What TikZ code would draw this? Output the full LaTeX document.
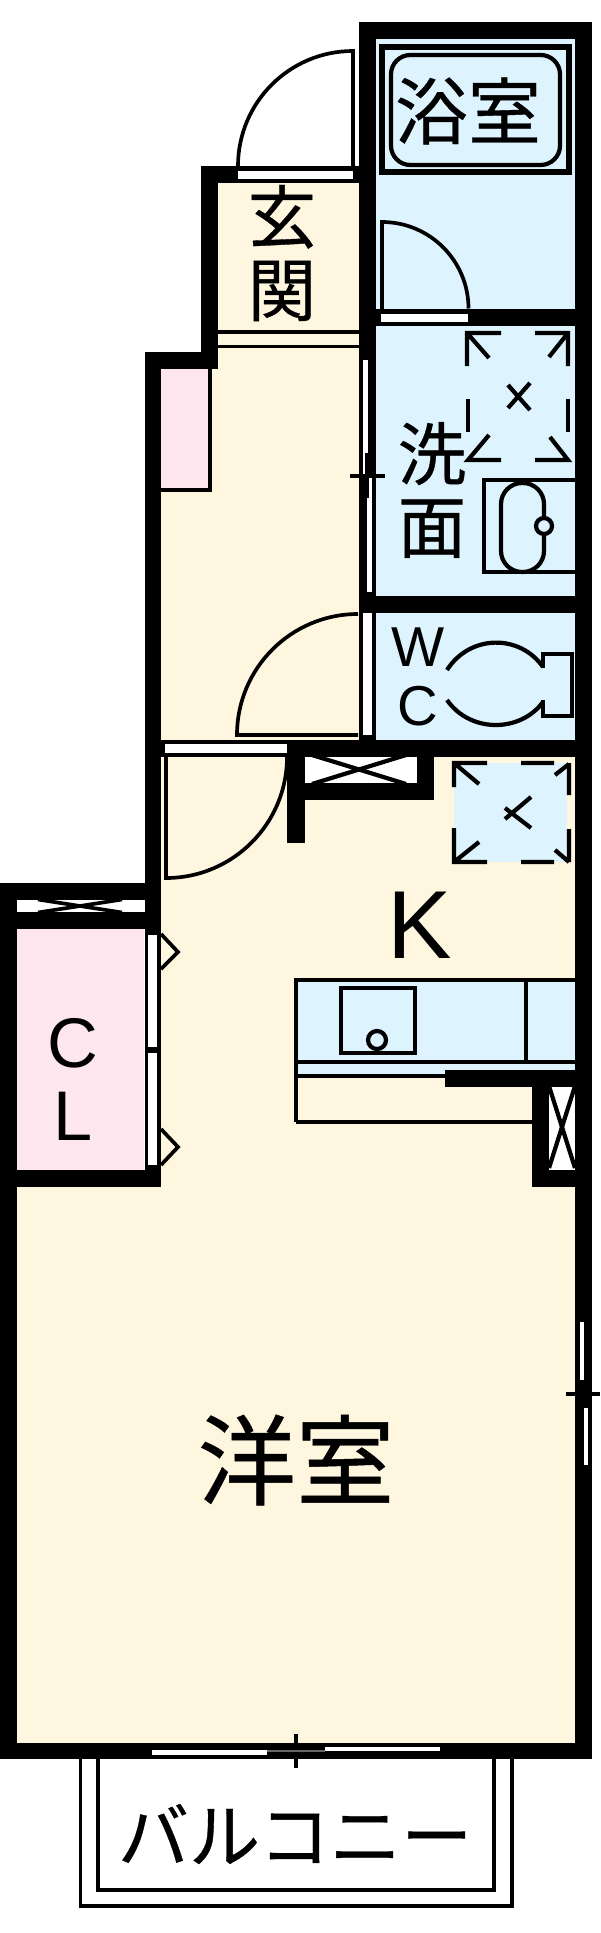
\documentclass[tikz,border=0pt]{standalone}
\usepackage{fontspec}
\setmainfont{Liberation Sans}
\newfontfamily\jpfont[FakeBold=0.5]{Noto Sans CJK JP}
\usetikzlibrary{positioning}
\definecolor{roomblue}{HTML}{DDF4FF}
\definecolor{roomcream}{HTML}{FFF6E0}
\definecolor{roompink}{HTML}{FDE6EE}
\tikzset{
  wallpart/.style={fill=black},
  slit/.style={fill=white},
  doorline/.style={draw=black, line width=2.1pt},
  fixture/.style={draw=black, line width=2.4pt},
  jplabel/.style={inner sep=0pt, align=center, font=\jpfont\fontsize{39}{41.5}\selectfont},
  roman/.style={inner sep=0pt, align=center}
}
\begin{document}
\begin{tikzpicture}[x=0.02cm, y=-0.02cm]
\useasboundingbox (0,0) rectangle (600,1933);

% rooms
\foreach \xa/\ya/\xb/\yb in {376/39/575/309, 376/326/575/596, 376/613/575/740}
  \fill [roomblue] (\xa,\ya) rectangle (\xb,\yb);
\fill [roomcream] (218,183) -- (359,183) -- (359,740) -- (161,740) -- (161,369) -- (218,369) -- cycle;
\fill [roomcream] (161,757) -- (575,757) -- (575,1743) -- (17,1743) -- (17,1187) -- (161,1187) -- cycle;
\fill [roompink] (17,929) rectangle (144,1170);
\fill [roompink] (161,369) rectangle (209,489);
\fill [roomblue] (296,980) rectangle (575,1075);
\fill [roomblue] (454,763) rectangle (567,862);

% strips with a cross
\fill [slit] (304,757) rectangle (417,783);
\fill [slit] (17,900) rectangle (144,912);
\fill [slit] (549,1087) rectangle (575,1170);
\draw [fixture] (312,755) -- (406,784);
\draw [fixture] (406,755) -- (312,784);
\draw [doorline] (38,899.5) -- (122,912.5);
\draw [doorline] (122,899.5) -- (38,912.5);
\draw [fixture] (549,1086) -- (575,1168);
\draw [fixture] (575,1086) -- (549,1168);

% walls
\foreach \xa/\ya/\xb/\yb in {
  359/22/592/39, 359/22/376/740, 575/22/592/1759, 376/309/575/326,
  201/166/359/183, 201/166/218/369, 145/352/218/369, 145/352/161/1187,
  359/596/592/613, 145/740/592/757, 287/757/305/843, 305/783/434/800, 417/757/434/800,
  0/883/161/900, 0/912/161/929, 0/883/17/1759, 0/1170/161/1187, 0/1743/592/1759,
  445/1070/575/1087, 532/1087/549/1187, 532/1170/575/1187}
  \fill [wallpart] (\xa,\ya) rectangle (\xb,\yb);

% openings
\foreach \xa/\ya/\xb/\yb in {
  238/171/353/179, 381/314/468/322, 165/744/287/753,
  363/360/368/476, 367/476/372/592, 363/613/372/735,
  148/935/157/1047, 148/1053/157/1165,
  580/1322/584/1380, 584/1408/588/1465,
  152/1750/267/1755, 325/1747/440/1751}
  \fill [slit] (\xa,\ya) rectangle (\xb,\yb);

% doors
\draw [doorline] (238,166) arc [start angle=-180, end angle=-90, radius=115] -- (353,166);
\draw [doorline] (382,309) -- (382,222) arc [start angle=-90, end angle=0, radius=86.5];
\draw [doorline] (358,614) arc [start angle=-90, end angle=-180, radius=121] -- (358,735);
\draw [doorline] (287,757) arc [start angle=0, end angle=90, radius=121] -- (166,757);
\draw [doorline] (161,934) -- (178,952) -- (161,969);
\draw [doorline] (161,1129) -- (178,1147) -- (161,1165);

% entrance step and shelf
\draw [doorline] (218,332) -- (359,332) (218,346.5) -- (359,346.5);
\draw [fixture] (210,369) -- (210,490) -- (161,490);

% bath
\draw [doorline, line width=1.4pt] (380.5,45.5) rectangle (570.5,173.5);
\draw [doorline, line width=1.4pt] (383.5,48.5) rectangle (567.5,170.5);
\draw [fixture, rounded corners=11pt] (391,55) rectangle (560,165);

% washbasin
\draw [fixture] (575,480) -- (484,480) -- (484,572) -- (575,572);
\draw [fixture, rounded corners=12pt] (501,483) rectangle (544,572);
\draw [fixture, fill=roomblue] (544,526) circle (8);

% washroom vent
\draw [fixture] (501,333) -- (467,333) -- (467,366) (467,333) -- (489,358);
\draw [fixture] (535,333) -- (568,333) -- (568,366) (568,333) -- (549,357);
\draw [fixture] (468,399) -- (468,432) (568,399) -- (568,432);
\draw [fixture] (501,460) -- (468,460) -- (489,435);
\draw [fixture] (535,460) -- (568,460) -- (550,437);
\draw [fixture] (508,385) -- (530,410) (530,383) -- (508,408);

% kitchen vent
\draw [fixture] (487,763) -- (454,763) -- (454,787) (454,763) -- (479,784);
\draw [fixture] (521,763) -- (554,763) (569,763) -- (569,795) (569,764) -- (555,775);
\draw [fixture] (487,862) -- (454,862) -- (454,828) (454,862) -- (479,842);
\draw [fixture] (521,862) -- (554,862) (569,862) -- (569,829) (569,862) -- (555,850);
\draw [fixture] (505,808) -- (531,828) (531,797) -- (505,819);

% toilet
\draw [fixture] (447,670) .. controls (470,634) and (520,634) .. (543,667);
\draw [fixture] (447,700) .. controls (470,733) and (520,733) .. (543,702);
\draw [fixture] (543,668) -- (543,654) -- (572,654) -- (572,716) -- (543,716) -- (543,700);

% kitchen
\draw [fixture] (296,1122) -- (296,980) -- (575,980);
\draw [fixture] (296,1122) -- (532,1122);
\draw [fixture] (296,1062) -- (575,1062);
\draw [fixture] (296,1076) -- (445,1076);
\draw [fixture] (526,980) -- (526,1062);
\draw [fixture] (341,988) rectangle (415,1053);
\draw [fixture, fill=roomblue] (377,1040) circle (9);

% window marks
\draw [doorline] (350,476) -- (385,476) (367,453) -- (367,498);
\draw [doorline] (566,1394) -- (600,1394) (584,1380) -- (584,1408);
\draw [doorline] (296,1734) -- (296,1768);
\draw [doorline, line width=0.8pt, draw=black!60] (267,1751) -- (325,1751);

% balcony
\draw [doorline, line width=1.8pt] (80.5,1759) -- (80.5,1906) -- (512,1906) -- (512,1759);
\draw [fixture] (98,1759) -- (98,1890) -- (494,1890) -- (494,1759);

% labels
\node [jplabel, font=\jpfont\fontsize{41.5}{41.5}\selectfont] (bath) at (468,111) {浴室};
\node [jplabel] (entrance) at (282,253) {玄\\関};
\node [jplabel] (washroom) at (432,490) {洗\\面};
\node [jplabel, font=\jpfont\fontsize{56}{56}\selectfont] (western) at (296,1460) {洋室};
\node [jplabel, font=\jpfont\fontsize{40.5}{40.5}\selectfont] (balconylabel) at (295,1834) {バルコニー};
\node [roman, font=\fontsize{32}{33.5}\selectfont] (toiletlabel) at (418,677) {W\\C};
\node [roman, font=\fontsize{40}{41.5}\selectfont] (closetlabel) at (73,1079) {C\\L};
\node [roman, font=\fontsize{55}{55}\selectfont] (kitchenlabel) at (420,925) {K};
\end{tikzpicture}
\end{document}
